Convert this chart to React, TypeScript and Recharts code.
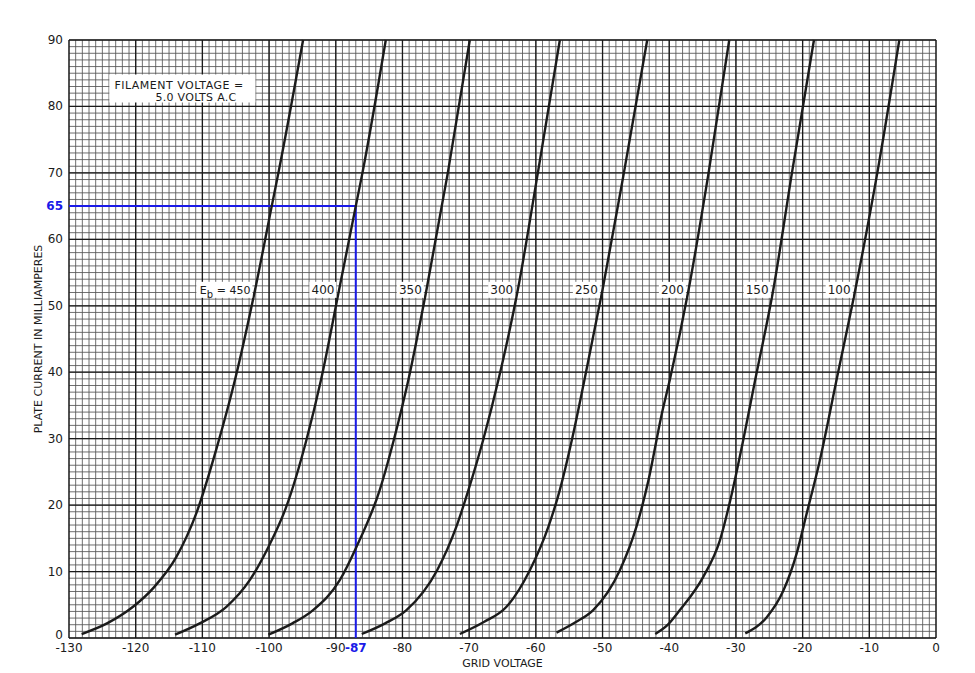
import { LineChart, Line, XAxis, YAxis, CartesianGrid, ReferenceLine, ReferenceDot } from 'recharts'

// axis ticks
const xTicks = [-130, -120, -110, -100, -90, -80, -70, -60, -50, -40, -30, -20, -10, 0]
const yTicks = [0, 10, 20, 30, 40, 50, 60, 70, 80, 90]
const minorX = Array.from({ length: 131 }, (_, k) => k - 130)
const minorY = Array.from({ length: 91 }, (_, k) => k)

// [grid voltage, plate current mA]
const eb450 = [[-128.1, 0.6], [-124.3, 2.2], [-120.4, 4.7], [-117.2, 7.7], [-113.9, 12.2], [-110.9, 18.8], [-107.8, 28.8], [-105.1, 38.9], [-102.1, 52.4], [-99.6, 65], [-98.6, 70], [-94.9, 90]]
const eb400 = [[-114.1, 0.5], [-110.4, 2.2], [-106.4, 4.7], [-102.9, 8.7], [-100.1, 13.7], [-97.4, 19.8], [-94.4, 29.8], [-92.2, 38.9], [-89.5, 52.4], [-87, 65], [-86, 70], [-82.5, 90]]
const eb350 = [[-100.1, 0.5], [-96.5, 2.2], [-93.4, 4.2], [-89.4, 8.7], [-86.9, 13.7], [-83.4, 22.3], [-81.3, 29.8], [-79.1, 38.9], [-76.4, 52.4], [-73.2, 70], [-69.9, 90]]
const eb300 = [[-86.1, 0.6], [-82.6, 2.2], [-79.4, 4.2], [-74.8, 10.2], [-71.9, 16.8], [-70.1, 22.3], [-67.9, 29.8], [-65.6, 38.9], [-62.7, 52.4], [-59.7, 70], [-56.4, 90]]
const eb250 = [[-71.4, 0.6], [-67.8, 2.4], [-64.4, 4.7], [-60.9, 10.2], [-58.1, 16.8], [-56.4, 22.3], [-54.6, 29.8], [-52.7, 38.9], [-50.0, 52.4], [-46.8, 70], [-43.3, 90]]
const eb200 = [[-56.9, 0.8], [-54.0, 2.4], [-51.4, 4.2], [-47.4, 10.2], [-44.9, 16.8], [-43.1, 23.8], [-41.1, 33.8], [-39.9, 38.9], [-37.1, 52.4], [-34.1, 70], [-31.0, 90]]
const eb150 = [[-42.1, 0.6], [-40.2, 2.0], [-38.4, 4.2], [-34.9, 9.2], [-32.4, 14.7], [-30.6, 21.8], [-28.9, 29.8], [-27.1, 38.9], [-24.4, 52.4], [-21.6, 70], [-18.3, 90]]
const eb100 = [[-28.6, 0.7], [-25.4, 3.1], [-22.9, 7.1], [-20.9, 12.7], [-19.4, 18.7], [-17.4, 26.8], [-14.9, 38.9], [-12.1, 52.4], [-8.8, 70], [-5.5, 90]]

const plateVolts = [450, 400, 350, 300, 250, 200, 150, 100]
const curvePoints = [eb450, eb400, eb350, eb300, eb250, eb200, eb150, eb100]

// curve labels sit just left of each curve at this current
const labelCurrent = 52.4
const labelVolts = [-102.5, -89.9, -76.8, -63.1, -50.4, -37.5, -24.8, -12.5]

// the worked example drawn in blue
const markV = -87
const markI = 65

const BLUE = '#1a1ae8'
const INK = '#1b1b1b'
const FONT = '"DejaVu Sans", Verdana, sans-serif'

const fmt = (v: number) => (v < 0 ? `-${Math.abs(v)}` : `${v}`)

function XTick({ x, y, payload }: any) {
  const hi = payload.value === markV
  return (
    <text x={x} y={y} dy={12} textAnchor="middle" fontFamily={FONT} fontSize={12}
      fill={hi ? BLUE : INK} fontWeight={hi ? 700 : 400}>
      {fmt(payload.value)}
    </text>
  )
}

function YTick({ x, y, payload }: any) {
  const hi = payload.value === markI
  return (
    <text x={x} y={y} dx={-4} dy={payload.value === 0 ? 1 : 4} textAnchor="end" fontFamily={FONT} fontSize={12}
      fill={hi ? BLUE : INK} fontWeight={hi ? 700 : 400}>
      {payload.value}
    </text>
  )
}

function EbLabel({ cx, cy, eb, first }: any) {
  const w = first ? 56 : 27
  return (
    <g>
      <rect x={cx - w} y={cy - 8} width={w} height={16} fill="#fff" />
      <text x={cx - 2} y={cy + 4} textAnchor="end" fontFamily={FONT} fontSize={first ? 11 : 12} fill={INK}>
        {first ? (
          <>
            <tspan>E</tspan>
            <tspan dy={4} fontSize={10}>b</tspan>
            <tspan dy={-4}>{` = ${eb}`}</tspan>
          </>
        ) : eb}
      </text>
    </g>
  )
}

function FilamentNote({ cx, cy }: any) {
  return (
    <g>
      <rect x={cx - 73} y={cy - 14} width={146} height={28} fill="#fff" />
      <text x={cx - 68} y={cy} fontFamily={FONT} fontSize={11} letterSpacing={0.5} fill={INK}>FILAMENT  VOLTAGE  =</text>
      <text x={cx - 27} y={cy + 12} fontFamily={FONT} fontSize={11} letterSpacing={0.3} fill={INK}>5.0 VOLTS  A.C</text>
    </g>
  )
}

const scaleX = (list: number[]) => ({ xAxis, offset }: any) =>
  list.map((v) => (xAxis && typeof xAxis.scale === 'function'
    ? xAxis.scale(v)
    : offset.left + ((v + 130) / 130) * offset.width))

const scaleY = (list: number[]) => ({ yAxis, offset }: any) =>
  list.map((v) => (yAxis && typeof yAxis.scale === 'function'
    ? yAxis.scale(v)
    : offset.top + (1 - v / 90) * offset.height))

export default function App() {
  return (
    <LineChart width={959} height={665} margin={{ top: 32, right: 31, bottom: 8, left: 0 }}>
      <CartesianGrid stroke="#555" strokeWidth={0.85}
        verticalCoordinatesGenerator={scaleX(minorX)} horizontalCoordinatesGenerator={scaleY(minorY)} />
      <CartesianGrid stroke="#1a1a1a" strokeWidth={1.3}
        verticalCoordinatesGenerator={scaleX(xTicks)} horizontalCoordinatesGenerator={scaleY(yTicks)} />

      <XAxis
        dataKey="v" type="number" domain={[-130, 0]}
        ticks={[...xTicks, markV].sort((a, b) => a - b)} interval={0}
        height={27} axisLine={false} tickLine={false} tickSize={0} tick={<XTick />}
        label={{ value: 'GRID VOLTAGE', position: 'insideBottom', offset: -2, fontFamily: FONT, fontSize: 11, fill: INK }}
      />
      <YAxis
        type="number" domain={[0, 90]}
        ticks={[...yTicks, markI].sort((a, b) => a - b)} interval={0}
        width={61} axisLine={false} tickLine={false} tickSize={0} tick={<YTick />}
        label={{ value: 'PLATE CURRENT IN MILLIAMPERES', angle: -90, position: 'insideLeft', offset: 30,
          style: { textAnchor: 'middle' }, fontFamily: FONT, fontSize: 11, fill: INK }}
      />

      <ReferenceDot x={-113} y={82.7} r={1} shape={(p: any) => <FilamentNote {...p} />} />
      {plateVolts.map((eb, k) => (
        <ReferenceDot key={`lbl${eb}`} x={labelVolts[k]} y={labelCurrent} r={1}
          shape={(p: any) => <EbLabel {...p} eb={eb} first={k === 0} />} />
      ))}

      <ReferenceLine segment={[{ x: -130, y: markI }, { x: markV, y: markI }]} stroke={BLUE} strokeWidth={2} />
      <ReferenceLine segment={[{ x: markV, y: 0 }, { x: markV, y: markI }]} stroke={BLUE} strokeWidth={2} />

      {plateVolts.map((eb, k) => (
        <Line
          key={eb}
          data={curvePoints[k].map(([v, i]) => ({ v, i }))}
          dataKey="i"
          type="monotone"
          stroke={INK}
          strokeWidth={2.4}
          dot={false}
          isAnimationActive={false}
        />
      ))}
    </LineChart>
  )
}
